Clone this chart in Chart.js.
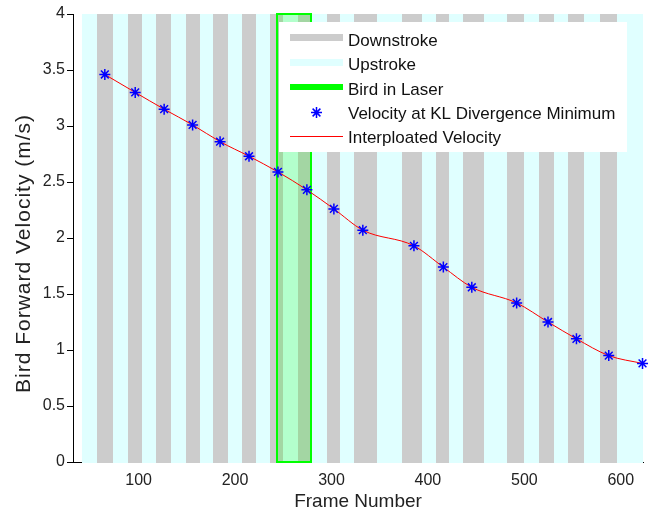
<!DOCTYPE html>
<html>
<head>
<meta charset="utf-8">
<script src="https://cdn.jsdelivr.net/npm/chart.js@4.4.0/dist/chart.umd.min.js"></script>
<style>
  html, body { margin: 0; padding: 0; background: #fff; }
</style>
</head>
<body>
<canvas id="grafikBurung" width="651" height="514"></canvas>
<script>
// frame numbers and velocities at KL divergence minimum
const frames = [65, 96.5, 126.5, 156, 184.5, 214.5, 244.5, 274.5, 302.5, 332.5, 385.5, 416, 445.5, 492, 524.5, 554, 587.5, 622.5];
const velocity = [3.46, 3.30, 3.15, 3.01, 2.86, 2.73, 2.59, 2.43, 2.26, 2.07, 1.93, 1.74, 1.56, 1.42, 1.25, 1.10, 0.95, 0.88];

// wing stroke phases (frame ranges)
const downStart = [56.9, 88.6, 118.3, 149.4, 177.1, 207.1, 236.4, 265.7, 295.1, 323.7, 372.8, 408.4, 436.7, 481.6, 515.4, 545.4, 578.2];
const downEnd   = [73.5, 103.5, 133.6, 163.2, 192.2, 221.6, 250.2, 278.9, 308.9, 346.9, 393.6, 422.2, 458.1, 499.5, 530.6, 561.7, 596.2];
const upStart   = [41.4, 73.5, 103.5, 133.6, 163.2, 192.2, 221.6, 250.2, 278.9, 308.9, 346.9, 393.6, 422.2, 458.1, 499.5, 530.6, 561.7, 596.2];
const upEnd     = [56.9, 88.6, 118.3, 149.4, 177.1, 207.1, 236.4, 265.7, 295.1, 323.7, 372.8, 408.4, 436.7, 481.6, 515.4, 545.4, 578.2, 623];
const laser = [244, 278.8];

const xTicks = [100, 200, 300, 400, 500, 600];
const yTicks = [0, 0.5, 1, 1.5, 2, 2.5, 3, 3.5, 4];
const legendLabels = ["Downstroke", "Upstroke", "Bird in Laser", "Velocity at KL Divergence Minimum", "Interploated Velocity"];

const FONT = '"Liberation Sans", Arial, sans-serif';
Chart.defaults.font.family = FONT;

const points = frames.map((f, i) => ({ x: f, y: velocity[i] }));

// background bands: upstroke, downstroke, laser box
const bandPlugin = {
  id: "pita",
  beforeDatasetsDraw(chart) {
    const { ctx, scales: { x, y } } = chart;
    const top = Math.round(y.getPixelForValue(4));
    const bot = Math.round(y.getPixelForValue(0)) + 1;
    const px = v => Math.round(x.getPixelForValue(v));
    ctx.save();
    ctx.fillStyle = "#e0ffff";
    for (let i = 0; i < upStart.length; i++) {
      ctx.fillRect(px(upStart[i]), top, px(upEnd[i]) - px(upStart[i]), bot - top);
    }
    ctx.fillStyle = "#cccccc";
    for (let i = 0; i < downStart.length; i++) {
      ctx.fillRect(px(downStart[i]), top, px(downEnd[i]) - px(downStart[i]), bot - top);
    }
    const l0 = px(laser[0]), l1 = px(laser[1]);
    ctx.fillStyle = "rgba(0,255,0,0.2)";
    ctx.fillRect(l0, top, l1 - l0, bot - top - 1);
    ctx.strokeStyle = "#00ff00";
    ctx.lineWidth = 2;
    ctx.strokeRect(l0, top, l1 - l0, bot - top - 1);
    ctx.restore();
  }
};

// legend box + y axis title
const legendPlugin = {
  id: "legenda",
  afterDraw(chart) {
    const ctx = chart.ctx;
    ctx.save();
    ctx.fillStyle = "#ffffff";
    ctx.fillRect(279, 22, 348, 130);

    ctx.fillStyle = "#cccccc";
    ctx.fillRect(290, 34, 53, 7);
    ctx.fillStyle = "#e0ffff";
    ctx.fillRect(290, 59, 53, 7);
    ctx.fillStyle = "#00ff00";
    ctx.fillRect(290, 84, 53, 6);

    ctx.strokeStyle = "#0000ff";
    ctx.lineWidth = 1.5;
    Chart.helpers.drawPoint(ctx, { pointStyle: "star", radius: 5.5, borderWidth: 1.5, rotation: 0 }, 316.5, 112.5);

    ctx.strokeStyle = "#ff0000";
    ctx.lineWidth = 1;
    ctx.beginPath();
    ctx.moveTo(290, 136.5);
    ctx.lineTo(343, 136.5);
    ctx.stroke();

    ctx.fillStyle = "#111";
    ctx.font = "17px " + FONT;
    ctx.textAlign = "left";
    ctx.textBaseline = "middle";
    const rowY = [41, 65.5, 90, 114.5, 138.5];
    legendLabels.forEach((t, i) => ctx.fillText(t, 348, rowY[i]));

    // y title
    ctx.translate(24.5, 253.5);
    ctx.rotate(-Math.PI / 2);
    ctx.font = "21px " + FONT;
    ctx.letterSpacing = "1px";
    ctx.textAlign = "center";
    ctx.fillStyle = "#222";
    ctx.fillText("Bird Forward Velocity (m/s)", 0, 0);
    ctx.restore();
  }
};

const ctx = document.getElementById("grafikBurung").getContext("2d");

new Chart(ctx, {
  type: "line",
  data: {
    datasets: [
      {
        label: legendLabels[3],
        data: points,
        showLine: false,
        pointStyle: "star",
        pointRadius: 5.5,
        pointBorderColor: "#0000ff",
        pointBackgroundColor: "#0000ff",
        pointBorderWidth: 1.5,
        clip: false
      },
      {
        label: legendLabels[4],
        data: points,
        borderColor: "#ff0000",
        borderWidth: 1,
        pointRadius: 0,
        fill: false,
        cubicInterpolationMode: "monotone"
      }
    ]
  },
  options: {
    responsive: false,
    animation: false,
    layout: { padding: { left: 0, right: 8, top: 14, bottom: 0 } },
    plugins: {
      legend: { display: false },
      tooltip: { enabled: false }
    },
    scales: {
      x: {
        type: "linear",
        min: 32,
        max: 623,
        afterBuildTicks: s => { s.ticks = xTicks.map(v => ({ value: v })); },
        afterFit: s => { s.height = 52; },
        grid: { display: false, drawTicks: false },
        border: { display: true, color: "#000" },
        ticks: {
          font: { size: 16 },
          color: "#222",
          padding: 9,
          maxRotation: 0,
          autoSkip: false,
          callback: v => String(v)
        },
        title: {
          display: true,
          text: "Frame Number",
          font: { size: 19 },
          color: "#222",
          padding: { top: 0, bottom: 1 }
        }
      },
      y: {
        min: 0,
        max: 4,
        afterBuildTicks: s => { s.ticks = yTicks.map(v => ({ value: v })); },
        afterFit: s => { s.width = 73; },
        grid: { drawOnChartArea: false, drawTicks: true, tickLength: 6, color: "#000" },
        border: { display: true, color: "#000" },
        ticks: {
          font: { size: 16 },
          color: "#222",
          padding: 2,
          callback: v => String(v)
        }
      }
    }
  },
  plugins: [bandPlugin, legendPlugin]
});
</script>
</body>
</html>
